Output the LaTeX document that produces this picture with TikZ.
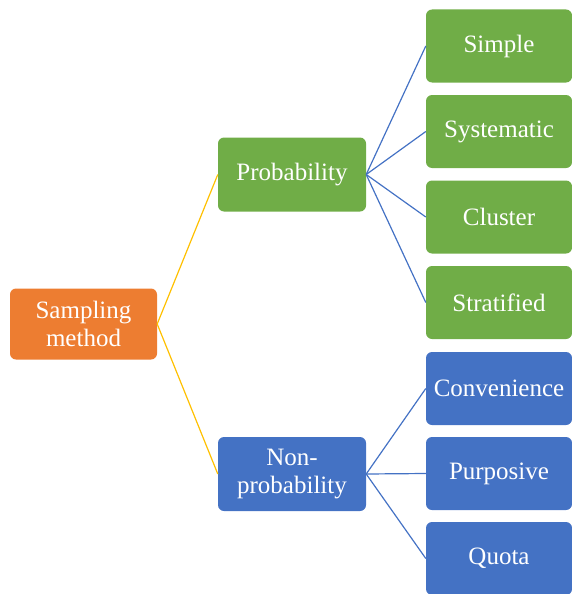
\documentclass[tikz,border=0pt]{standalone}
\usepackage{fontspec}
\setmainfont{Liberation Serif}
\definecolor{orangebox}{HTML}{ED7D31}
\definecolor{greenbox}{HTML}{70AD47}
\definecolor{bluebox}{HTML}{4472C4}
\definecolor{linkyellow}{HTML}{FFC000}
\definecolor{linkblue}{HTML}{4472C4}
\begin{document}
\begin{tikzpicture}[x=1pt,y=-1pt,
  box/.style={rounded corners=6pt, text=white, align=center,
    font=\fontsize{25}{28}\selectfont, inner sep=0pt},
  rootlink/.style={draw=linkyellow, line width=1.2pt},
  leaflink/.style={draw=linkblue, line width=1.2pt}]
\useasboundingbox (0,0) rectangle (571,594);
% left column
\node[box, fill=orangebox, minimum width=147pt, minimum height=71pt] (root) at (83.5,324) {Sampling\\method};
% middle column
\node[box, fill=greenbox, minimum width=148pt, minimum height=74pt] (prob) at (292,174.5) {Probability};
\node[box, fill=bluebox, minimum width=148pt, minimum height=74pt] (nonprob) at (292,474) {Non-\\probability};
% right column
\foreach \name/\txt/\yy/\col in {
  simple/Simple/46/greenbox,
  syst/Systematic/131.5/greenbox,
  clus/Cluster/217/greenbox,
  strat/Stratified/302.5/greenbox,
  conv/Convenience/388.5/bluebox,
  purp/Purposive/473.5/bluebox,
  quota/Quota/558.5/bluebox}
  \node[box, fill=\col, minimum width=146pt, minimum height=73pt] (\name) at (499,\yy) {\txt};
% connectors
\draw[rootlink] (root.east) -- (prob.west);
\draw[rootlink] (root.east) -- (nonprob.west);
\foreach \n in {simple,syst,clus,strat}
  \draw[leaflink] (prob.east) -- (\n.west);
\foreach \n in {conv,purp,quota}
  \draw[leaflink] (nonprob.east) -- (\n.west);
\end{tikzpicture}
\end{document}
